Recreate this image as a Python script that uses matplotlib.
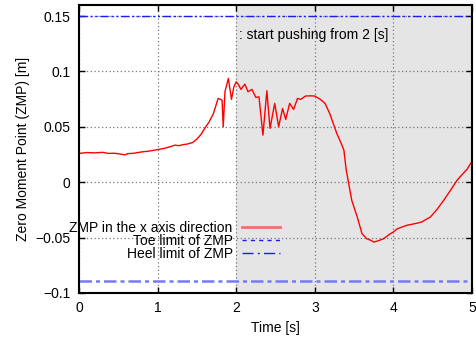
import matplotlib
matplotlib.use("Agg")
import matplotlib.pyplot as plt
from matplotlib.lines import Line2D

plt.rcParams["font.family"] = ["Liberation Sans", "DejaVu Sans"]
plt.rcParams["font.size"] = 10

# ZMP trajectory (x axis direction)
time_s = [0.00, 0.10, 0.20, 0.30, 0.37, 0.45, 0.52, 0.585, 0.62, 0.70,
          0.80, 0.88, 0.95, 1.00, 1.08, 1.15, 1.22, 1.27, 1.33, 1.38,
          1.45, 1.50, 1.55, 1.60, 1.66, 1.71, 1.77, 1.80, 1.82, 1.835,
          1.857, 1.90, 1.94, 1.97, 2.00, 2.03, 2.06, 2.11, 2.15, 2.20,
          2.25, 2.29, 2.34, 2.39, 2.43, 2.49, 2.54, 2.59, 2.63, 2.68,
          2.73, 2.78, 2.82, 2.88, 2.94, 3.00, 3.07, 3.13, 3.19, 3.28,
          3.33, 3.37, 3.40, 3.47, 3.54, 3.60, 3.66, 3.71, 3.75, 3.80,
          3.875, 3.95, 4.00, 4.05, 4.17, 4.30, 4.36, 4.47, 4.55, 4.64,
          4.72, 4.81, 4.94, 5.00]
zmp_x = [0.0260, 0.0268, 0.0265, 0.0270, 0.0260, 0.0262, 0.0255, 0.0247, 0.0258, 0.0262,
         0.0274, 0.0280, 0.0288, 0.0295, 0.0305, 0.0318, 0.0335, 0.0330, 0.0340, 0.0345,
         0.0360, 0.0390, 0.0430, 0.0486, 0.0550, 0.0620, 0.0757, 0.0748, 0.0740, 0.0500,
         0.0817, 0.0937, 0.0748, 0.0860, 0.0907, 0.0880, 0.0838, 0.0886, 0.0817, 0.0838,
         0.0766, 0.0771, 0.0425, 0.0826, 0.0486, 0.0712, 0.0500, 0.0666, 0.0567, 0.0712,
         0.0657, 0.0757, 0.0748, 0.0778, 0.0780, 0.0778, 0.0748, 0.0712, 0.0620, 0.0440,
         0.0360, 0.0290, 0.0110, -0.0163, -0.0314, -0.0464, -0.0510, -0.0524, -0.0540, -0.0530,
         -0.0510, -0.0470, -0.0449, -0.0420, -0.0389, -0.0370, -0.0359, -0.0314, -0.0250, -0.0163,
         -0.0080, 0.0018, 0.0120, 0.0190]

toe_limit = 0.15
heel_limit = -0.089
push_start = 2.0
t_end = 5.0

fig = plt.figure(figsize=(4.77, 3.41), dpi=100)
ax = fig.add_axes([79 / 477, 48 / 341, 393 / 477, 288 / 341])

ax.axvspan(push_start, t_end, color="#e5e5e5", zorder=0, lw=0)
ax.set_axisbelow(True)
ax.grid(True, color="#777777", linestyle=(0, (1, 2)), linewidth=0.9)

ax.axhline(toe_limit, color="#1a1aff", linewidth=1, dashes=(6, 2, 1.5, 2, 1.5, 2))
ax.axhline(heel_limit, color="#7878ff", linewidth=1.8, dashes=(5, 1.6, 1.6, 1.6))
ax.plot(time_s, zmp_x, color="red", linewidth=1)

ax.text(2.04, 0.133, ": start pushing from 2 [s]", va="center", ha="left")

ax.set_xlim(0, 5)
ax.set_ylim(-0.1, 0.16)
ax.set_xticks([0, 1, 2, 3, 4, 5])
ax.set_xticklabels(["0", "1", "2", "3", "4", "5"])
ax.set_yticks([-0.1, -0.05, 0, 0.05, 0.1, 0.15])
ax.set_yticklabels(["\u22120.1", "\u22120.05", "0", "0.05", "0.1", "0.15"])
ax.tick_params(direction="in", top=True, right=True, length=4, width=1, pad=6)
for s in ax.spines.values():
    s.set_linewidth(1.5)

ax.set_xlabel("Time [s]", labelpad=4)
ax.set_ylabel("Zero Moment Point (ZMP) [m]", labelpad=4)

handles = [
    Line2D([], [], color="#f07070", linewidth=2),
    Line2D([], [], color="#1a1aff", linewidth=1, dashes=(3, 3)),
    Line2D([], [], color="#1a1aff", linewidth=1, dashes=(8, 3, 1.5, 3)),
]
labels = ["ZMP in the x axis direction", "Toe limit of ZMP", "Heel limit of ZMP"]
ax.legend(handles, labels, loc="center right", bbox_to_anchor=(0.529, 0.181),
          frameon=False, markerfirst=False, borderpad=0, handlelength=2.7,
          handletextpad=0.7, labelspacing=-0.05)

fig.savefig("out.png", dpi=100)
